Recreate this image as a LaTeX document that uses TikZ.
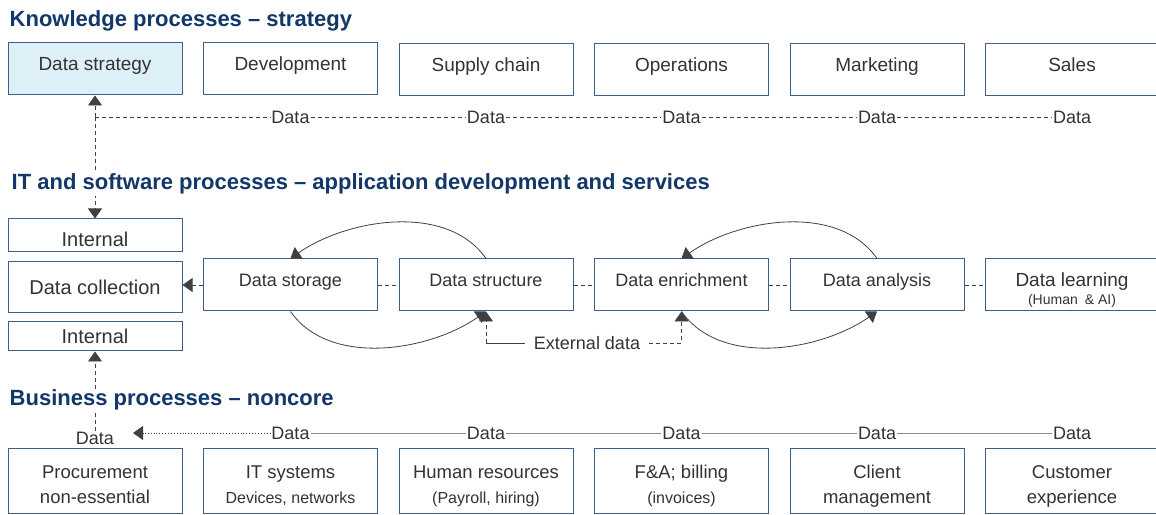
\documentclass[tikz,border=0pt]{standalone}
\usepackage{fontspec}
\setmainfont{Liberation Sans}
\usepackage{xcolor}
\definecolor{navy}{RGB}{18,55,105}
\definecolor{frame}{RGB}{62,94,140}
\definecolor{paleblue}{RGB}{221,240,248}
\definecolor{ink}{RGB}{51,51,51}
\definecolor{wire}{RGB}{64,64,64}
\definecolor{rule}{RGB}{140,140,140}
\usetikzlibrary{arrows.meta,backgrounds}

\begin{document}
\begin{tikzpicture}[x=1pt,y=1pt,
    box/.style={draw=frame, line width=1pt, fill=white, text=ink, inner sep=0pt,
                minimum width=174pt, align=center},
    toprow/.style={box, minimum height=52pt, text height=14pt, text depth=10pt,
                   font=\fontsize{19}{22}\selectfont},
    midrow/.style={box, minimum height=52pt, text height=14pt, text depth=10pt,
                   font=\fontsize{18}{22}\selectfont},
    leftcol/.style={box, text height=14pt, text depth=0pt,
                    font=\fontsize{20}{24}\selectfont},
    botrow/.style={box, minimum height=64pt, font=\fontsize{18.5}{25}\selectfont},
    headline/.style={anchor=base west, fill=white, inner sep=1.5pt, text=navy,
                     font=\bfseries\fontsize{22}{24}\selectfont},
    tag/.style={fill=white, inner sep=0.8pt, text=ink, font=\fontsize{18}{20}\selectfont},
    tip/.style={-{Triangle[length=10pt,width=14pt]}},
    link/.style={wire, line width=0.8pt, dash pattern=on 4pt off 3pt},
    loop/.style={wire, line width=0.8pt}]

    \useasboundingbox (0,0) rectangle (1156,514);

    % knowledge processes
    \node[headline] (khead) at (8,487) {Knowledge processes -- strategy};
    \node[toprow, fill=paleblue] (strategy) at (95,445) {Data strategy};
    \node[toprow] (develop) at (290.5,445) {Development};
    \node[toprow] (supply) at (486,444) {Supply chain};
    \node[toprow] (operate) at (681.5,444) {Operations};
    \node[toprow] (market) at (877,444) {Marketing};
    \node[toprow] (sales) at (1072,444) {Sales};

    \node[tag] (dt1) at (290.5,397) {Data};
    \node[tag] (dt2) at (486,397) {Data};
    \node[tag] (dt3) at (681.5,397) {Data};
    \node[tag] (dt4) at (877,397) {Data};
    \node[tag] (dt5) at (1072,397) {Data};

    % IT and software processes
    \node[headline] (ithead) at (10,324) {IT and software processes -- application development and services};
    \node[leftcol, minimum height=33pt, text height=22pt] (internal1) at (95,278.5) {Internal};
    \node[leftcol, minimum height=51pt] (collect) at (95,226.5) {Data collection};
    \node[leftcol, minimum height=29pt] (internal2) at (95,177.5) {Internal};

    \node[midrow] (storage) at (290.5,229) {Data storage};
    \node[midrow] (structure) at (486,229) {Data structure};
    \node[midrow] (enrich) at (681.5,229) {Data enrichment};
    \node[midrow] (analysis) at (877,229) {Data analysis};
    \node[box, minimum height=52pt, font=\fontsize{19}{18}\selectfont] (learning) at (1072,229)
        {\rule{0pt}{23pt}Data learning\\{\fontsize{14}{18}\selectfont (Human\enspace\& AI)}};

    \node[tag, inner xsep=9pt] (external) at (587,171) {External data};

    % business processes
    \node[headline] (bhead) at (8,108) {Business processes -- noncore};
    \node[tag] (db0) at (95,76) {Data};
    \node[tag] (db1) at (290.5,81) {Data};
    \node[tag] (db2) at (486,81) {Data};
    \node[tag] (db3) at (681.5,81) {Data};
    \node[tag] (db4) at (877,81) {Data};
    \node[tag] (db5) at (1072,81) {Data};
    \coordinate (dbtip) at (133,81);

    \node[botrow] (procure) at (95,33)
        {\rule{0pt}{24pt}Procurement\\non-essential\rule[-5pt]{0pt}{5pt}};
    \node[botrow] (itsys) at (290.5,33)
        {\rule{0pt}{24pt}IT systems\\{\fontsize{16}{25}\selectfont Devices, networks}\rule[-5pt]{0pt}{5pt}};
    \node[botrow] (human) at (486,33)
        {\rule{0pt}{24pt}Human resources\\{\fontsize{16}{25}\selectfont (Payroll, hiring)}\rule[-5pt]{0pt}{5pt}};
    \node[botrow] (billing) at (681.5,33)
        {\rule{0pt}{24pt}F\&A; billing\\{\fontsize{16}{25}\selectfont (invoices)}\rule[-5pt]{0pt}{5pt}};
    \node[botrow] (client) at (877,33)
        {\rule{0pt}{24pt}Client\\management\rule[-5pt]{0pt}{5pt}};
    \node[botrow] (customer) at (1072,33)
        {\rule{0pt}{24pt}Customer\\experience\rule[-5pt]{0pt}{5pt}};

    % data lines, kept under the headings
    \begin{pgfonlayer}{background}
    \draw[link, tip] (strategy.south |- dt1) -- (internal1.north);
    \draw[link, tip] (strategy.south |- dt1) -- (strategy.south);
    \draw[link] (strategy.south |- dt1) -- (dt1) -- (dt2) -- (dt3) -- (dt4) -- (dt5);
    \draw[rule, line width=0.8pt] (db1) -- (db2) -- (db3) -- (db4) -- (db5);
    \draw[wire, line width=0.9pt, dotted, tip] (db1.west) -- (dbtip);
    \draw[link, tip] (db0.north) -- (internal2.south);
    \end{pgfonlayer}

    % processing chain
    \draw[link, tip] (storage.west) -- (storage.west -| collect.east);
    \draw[link] (storage.east) -- (structure.west);
    \draw[link] (structure.east) -- (enrich.west);
    \draw[link] (enrich.east) -- (analysis.west);
    \draw[link] (analysis.east) -- (learning.west);

    \draw[loop, tip] (structure.north) to[out=125, in=35, looseness=0.9] (storage.north);
    \draw[loop, tip] (storage.south) to[out=-55, in=-145, looseness=0.9] (structure.south);
    \draw[loop, tip] (analysis.north) to[out=125, in=35, looseness=0.9] (enrich.north);
    \draw[loop, tip] (enrich.south) to[out=-55, in=-145, looseness=0.9] (analysis.south);

    \coordinate (extleft) at (structure.south |- external.west);
    \draw[loop] (external.west) -- (extleft);
    \draw[link, tip] (extleft) -- (structure.south);
    \draw[link, tip] (external.east) -| (enrich.south);
\end{tikzpicture}
\end{document}
